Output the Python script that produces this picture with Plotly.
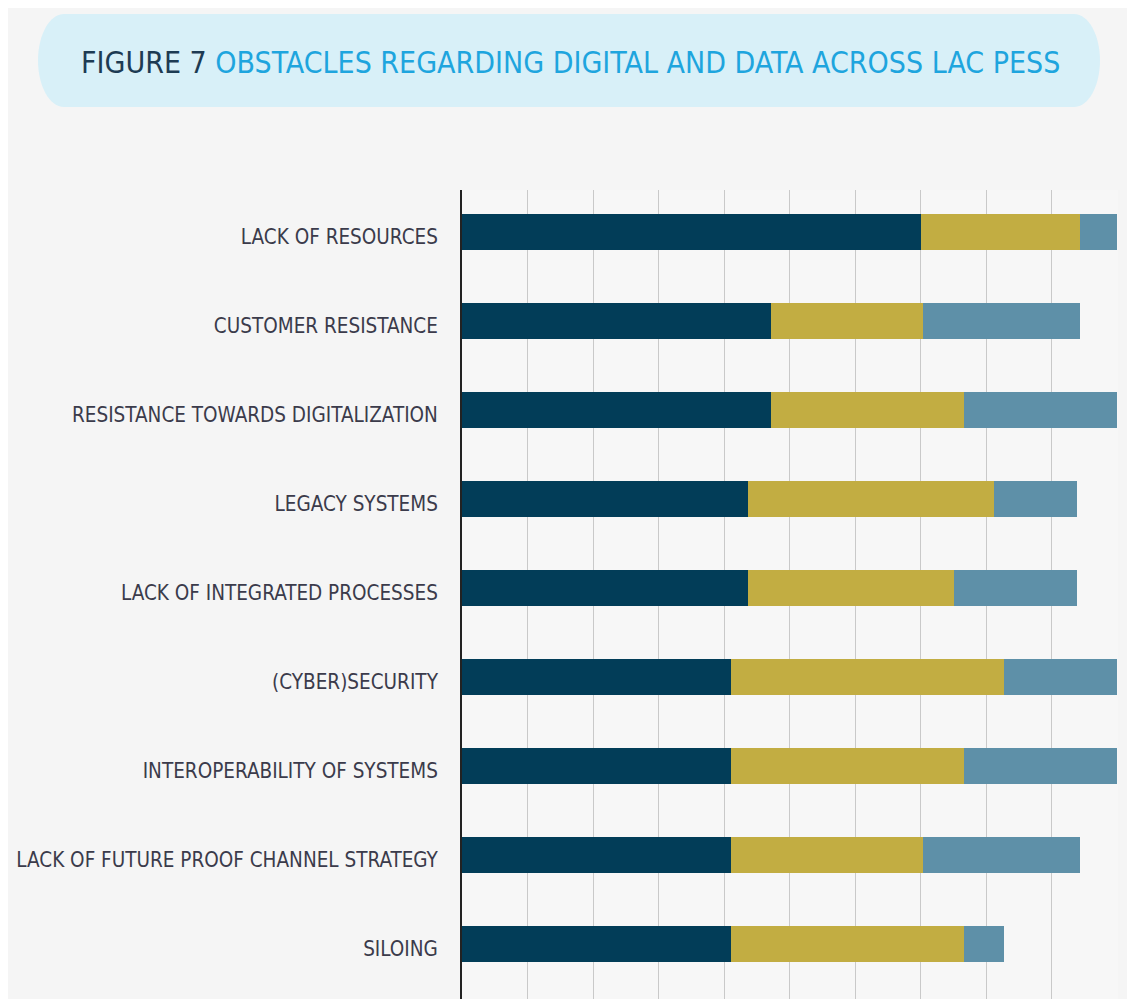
import plotly.graph_objects as go

categories = [
    "LACK OF RESOURCES",
    "CUSTOMER RESISTANCE",
    "RESISTANCE TOWARDS DIGITALIZATION",
    "LEGACY SYSTEMS",
    "LACK OF INTEGRATED PROCESSES",
    "(CYBER)SECURITY",
    "INTEROPERABILITY OF SYSTEMS",
    "LACK OF FUTURE PROOF CHANNEL STRATEGY",
    "SILOING",
]
series_dark = [70.0, 47.1, 47.1, 43.6, 43.6, 41.1, 41.1, 41.1, 41.1]
series_gold = [24.4, 23.3, 29.5, 37.6, 31.5, 41.7, 35.5, 29.3, 35.5]
series_blue = [5.6, 24.0, 23.4, 12.7, 18.8, 17.2, 23.4, 24.0, 6.2]

# page offset (default body margin of the html page)
OFF = 8
W, H = 1135, 999
ML, MR, MT, MB = 462 - OFF, 1135 - (1118 - OFF), 190 - OFF, 0
PW, PH = W - ML - MR, H - MT - MB


def px(x):
    return (x - OFF - ML) / PW


def py(y):
    return (H - MB - (y - OFF)) / PH


fig = go.Figure()
for vals, col, name in [
    (series_dark, "#023d58", "Dark"),
    (series_gold, "#c2ad42", "Gold"),
    (series_blue, "#5e90a8", "Blue"),
]:
    fig.add_trace(go.Bar(
        y=categories, x=vals, orientation="h", name=name,
        marker=dict(color=col, line=dict(width=0)),
        showlegend=False,
    ))

# Pill background for title
x0, x1, y0, y1 = 38, 1100, 14, 107
rx, ry = 26, (y1 - y0) / 2
ym = (y0 + y1) / 2
k = 0.5523


def P(x, y):
    return f"{px(x):.5f},{py(y):.5f}"


path = (
    f"M {P(x0 + rx, y0)} L {P(x1 - rx, y0)} "
    f"C {P(x1 - rx + k * rx, y0)} {P(x1, ym - k * ry)} {P(x1, ym)} "
    f"C {P(x1, ym + k * ry)} {P(x1 - rx + k * rx, y1)} {P(x1 - rx, y1)} "
    f"L {P(x0 + rx, y1)} "
    f"C {P(x0 + rx - k * rx, y1)} {P(x0, ym + k * ry)} {P(x0, ym)} "
    f"C {P(x0, ym - k * ry)} {P(x0 + rx - k * rx, y0)} {P(x0 + rx, y0)} Z"
)

shapes = [
    dict(type="path", xref="paper", yref="paper", path=path,
         fillcolor="#d8f0f8", line=dict(width=0), layer="below"),
]

cond_font = "DejaVu Sans Condensed, Liberation Sans Narrow, sans-serif"

# category axis: 89 px per category, first bar centre at page y=232
span = PH / 89.0
top = -(232 - 190) / 89.0

fig.update_layout(
    width=W, height=H,
    margin=dict(l=ML, r=MR, t=MT, b=MB, autoexpand=False),
    paper_bgcolor="#f5f5f5",
    plot_bgcolor="#f7f7f7",
    barmode="stack",
    bargap=0.595,
    shapes=shapes,
    annotations=[dict(
        xref="paper", yref="paper", x=px(570), y=py(62),
        xanchor="center", yanchor="middle", showarrow=False,
        text="<span style='color:#1d3b53'>FIGURE 7</span> "
             "<span style='color:#1ea5de'>OBSTACLES REGARDING DIGITAL AND DATA ACROSS LAC PESS</span>",
        font=dict(family=cond_font, size=30),
    )],
    xaxis=dict(
        range=[0, 100.15], dtick=10, tick0=0,
        showgrid=True, gridcolor="#c9c9c9", gridwidth=1,
        showticklabels=False, zeroline=False, showline=False, fixedrange=True,
        automargin=False,
    ),
    yaxis=dict(
        type="category", range=[top + span, top],
        showgrid=False, showline=True, linecolor="#222222", linewidth=2,
        ticks="", ticklabelstandoff=18, ticklabelshift=-5, automargin=False,
        tickfont=dict(family=cond_font, size=20.5, color="#3b3b4b"),
        zeroline=False, fixedrange=True,
    ),
)

fig.write_html("out.html")
